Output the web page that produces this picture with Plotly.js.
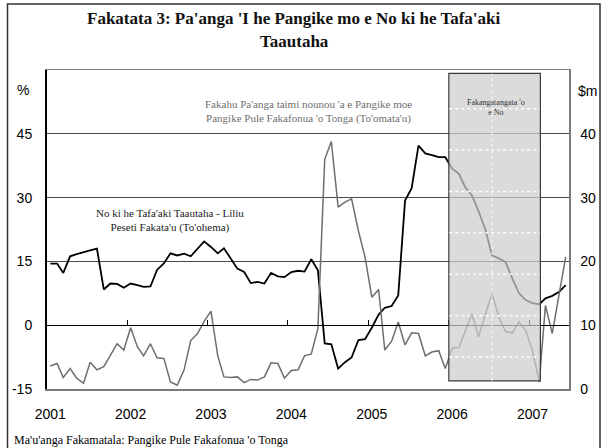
<!DOCTYPE html>
<html>
<head>
<meta charset="utf-8">
<script src="https://cdn.plot.ly/plotly-3.0.1.min.js"></script>
<style>html,body{margin:0;padding:0;background:#fff;}#chart{width:601px;height:448px;}</style>
</head>
<body>
<div id="chart"></div>
<script>
// ---- Data (monthly, Jan 2001 – Jun 2007) ----
const months = [
  '2001-01','2001-02','2001-03','2001-04','2001-05','2001-06','2001-07','2001-08','2001-09','2001-10','2001-11','2001-12',
  '2002-01','2002-02','2002-03','2002-04','2002-05','2002-06','2002-07','2002-08','2002-09','2002-10','2002-11','2002-12',
  '2003-01','2003-02','2003-03','2003-04','2003-05','2003-06','2003-07','2003-08','2003-09','2003-10','2003-11','2003-12',
  '2004-01','2004-02','2004-03','2004-04','2004-05','2004-06','2004-07','2004-08','2004-09','2004-10','2004-11','2004-12',
  '2005-01','2005-02','2005-03','2005-04','2005-05','2005-06','2005-07','2005-08','2005-09','2005-10','2005-11','2005-12',
  '2006-01','2006-02','2006-03','2006-04','2006-05','2006-06','2006-07','2006-08','2006-09','2006-10','2006-11','2006-12',
  '2007-01','2007-02','2007-03','2007-04','2007-05','2007-06'
];

// Private sector credit, annual % change (left axis)
const creditGrowth = [
  14.5,14.5,12.3,16.2,16.7,17.2,17.6,18.0,8.4,9.8,9.7,8.8,
  9.8,9.4,9.0,9.1,13.0,14.5,16.9,16.4,16.8,16.2,18.0,19.7,
  18.4,16.9,18.1,15.6,13.3,12.5,9.9,10.2,9.8,12.3,11.5,11.3,
  12.5,12.8,12.6,15.5,12.9,-4.3,-4.5,-10.2,-8.7,-7.6,-3.5,-3.3,
  -0.6,2.5,4.1,4.5,7.0,29.3,32.2,42.2,40.4,40.0,39.5,39.5,
  36.8,35.6,32.5,30.5,26.8,22.5,16.4,15.7,14.8,11.0,7.5,5.9,
  5.2,4.9,6.3,6.9,7.8,9.4
];

// Banks' short-term deposits with the Reserve Bank, $m (right axis)
const bankDeposits = [
  3.6,4.0,1.8,3.2,1.7,0.9,4.2,3.0,3.5,5.3,7.1,6.1,
  9.6,6.6,5.2,7.1,4.9,4.8,1.1,0.6,3.0,7.6,8.7,10.6,
  12.2,5.2,1.9,1.8,1.9,1.0,1.5,1.4,1.9,4.1,4.0,1.7,
  2.9,3.0,5.2,5.5,9.5,36.0,38.8,28.5,29.3,29.8,24.8,20.7,
  14.4,15.6,6.1,7.5,10.5,6.9,8.8,8.7,5.2,5.8,6.0,3.2,
  6.4,6.5,9.0,11.8,8.2,11.8,15.0,11.3,9.0,8.8,10.5,9.2,
  6.0,1.1,13.1,8.7,14.7,20.7
];

const yearLabels = ['2001','2002','2003','2004','2005','2006','2007'];
const leftTicks = [-15,0,15,30,45];
const rightTicks = [0,10,20,30,40];

const titleLine1 = "Fakatata 3: Pa'anga 'I he Pangike mo e No ki he Tafa'aki";
const titleLine2 = "Taautaha";
const depositLabel = "Fakahu Pa'anga taimi nounou 'a e Pangike moe<br>Pangike Pule Fakafonua 'o Tonga (To'omata'u)";
const creditLabel = "No ki he Tafa'aki Taautaha - Liliu<br>Peseti Fakata'u (To'ohema)";
const shadeLabel = "Fakangatangata 'o<br>e No";
const sourceText = "Ma'u'anga Fakamatala: Pangike Pule Fakafonua 'o Tonga";

// ---- Layout helpers ----
const W = 601, H = 448;
const M = {l: 47, r: 32, t: 70, b: 59};
const PW = W - M.l - M.r, PH = H - M.t - M.b;
const px = x => (x - M.l) / PW;
const py = y => (H - M.b - y) / PH;

const xDates = months.map(m => m + '-16');
const xRange = ['2001-01-01', '2007-07-01'];
const serif = 'Liberation Serif, Times New Roman, serif';
const sans = 'Liberation Sans, Arial, sans-serif';

const traces = [
  {
    x: xDates, y: bankDeposits, yaxis: 'y2', type: 'scatter', mode: 'lines',
    line: {color: '#6e6e6e', width: 1.5}, hoverinfo: 'skip', showlegend: false
  },
  {
    x: xDates, y: creditGrowth, yaxis: 'y', type: 'scatter', mode: 'lines',
    line: {color: '#000000', width: 1.8}, hoverinfo: 'skip', showlegend: false
  }
];

const shapes = [
  // outer frame
  {type: 'rect', xref: 'paper', yref: 'paper', x0: px(7.5), x1: px(600), y0: py(470), y1: py(4),
   line: {color: '#333', width: 1.5}, fillcolor: 'rgba(0,0,0,0)', layer: 'below'},
  // shaded restriction period
  {type: 'rect', xref: 'x', yref: 'y', x0: '2006-01-01', x1: '2007-02-21', y0: -13.1, y1: 59.2,
   fillcolor: 'rgba(205,205,205,0.72)', line: {color: '#3a3a3a', width: 1.2}, layer: 'above'},
  {type: 'line', xref: 'x', yref: 'y', x0: '2006-07-16', x1: '2006-07-16', y0: -13.1, y1: 59.2,
   line: {color: 'rgba(255,255,255,0.55)', width: 1.5, dash: 'dot'}, layer: 'above'}
];
for (let k = 0; k < 7; k++) {
  const yv = 50.9 - 9.73 * k;
  shapes.push({type: 'line', xref: 'x', yref: 'y', x0: '2006-01-03', x1: '2007-02-19', y0: yv, y1: yv,
    line: {color: 'rgba(255,255,255,0.9)', width: 1.5, dash: 'dot'}, layer: 'above'});
}

const annotations = [
  {text: '<b>' + titleLine1 + '</b>', xref: 'paper', yref: 'paper', x: px(294), y: py(19), showarrow: false,
   xanchor: 'center', yanchor: 'middle', font: {family: serif, size: 17, color: '#111'}},
  {text: '<b>' + titleLine2 + '</b>', xref: 'paper', yref: 'paper', x: px(294), y: py(41), showarrow: false,
   xanchor: 'center', yanchor: 'middle', font: {family: serif, size: 17, color: '#111'}},
  {text: '%', xref: 'paper', yref: 'paper', x: px(23), y: py(90), showarrow: false,
   xanchor: 'center', yanchor: 'middle', font: {family: sans, size: 14, color: '#000'}},
  {text: '$m', xref: 'paper', yref: 'paper', x: px(587), y: py(91), showarrow: false,
   xanchor: 'center', yanchor: 'middle', font: {family: sans, size: 14, color: '#000'}},
  {text: depositLabel, xref: 'paper', yref: 'paper', x: px(308), y: py(111), showarrow: false,
   xanchor: 'center', yanchor: 'middle', align: 'center', font: {family: serif, size: 11, color: '#6e6e6e'}},
  {text: creditLabel, xref: 'paper', yref: 'paper', x: px(170), y: py(220), showarrow: false,
   xanchor: 'center', yanchor: 'middle', align: 'center', font: {family: serif, size: 11, color: '#222'}},
  {text: shadeLabel, xref: 'paper', yref: 'paper', x: px(496), y: py(108), showarrow: false,
   xanchor: 'center', yanchor: 'middle', align: 'center', font: {family: serif, size: 8, color: '#333'}},
  {text: sourceText, xref: 'paper', yref: 'paper', x: px(12), y: py(440), showarrow: false,
   xanchor: 'left', yanchor: 'middle', font: {family: serif, size: 12, color: '#000'}}
];

const layout = {
  width: W, height: H,
  margin: M,
  paper_bgcolor: '#fff', plot_bgcolor: '#fff',
  showlegend: false,
  xaxis: {
    type: 'date', range: xRange, fixedrange: true,
    tickvals: yearLabels.map(y => y + '-01-16'), ticktext: yearLabels,
    ticks: '', ticklabelstandoff: 12,
    tickfont: {family: sans, size: 14, color: '#000'},
    showgrid: false, zeroline: false,
    showline: true, linecolor: '#7a7a7a', linewidth: 1.5, mirror: true
  },
  xaxis2: {
    type: 'date', range: xRange, overlaying: 'x', anchor: 'free', position: 0.2, side: 'bottom',
    tickvals: yearLabels.map(y => y + '-01-01'), ticktext: yearLabels, showticklabels: false,
    ticks: 'inside', ticklen: 5, tickwidth: 1, tickcolor: '#000',
    showgrid: false, zeroline: false, showline: true, linecolor: '#000', linewidth: 1.2
  },
  yaxis: {
    range: [-15, 60], tickvals: leftTicks, ticktext: leftTicks.map(String),
    ticks: '', ticklabelstandoff: 10,
    tickfont: {family: sans, size: 14, color: '#000'},
    showgrid: true, gridcolor: '#4a4a4a', gridwidth: 1,
    zeroline: false,
    showline: true, linecolor: '#000', linewidth: 2
  },
  yaxis2: {
    range: [0, 50], overlaying: 'y', side: 'right', tickvals: rightTicks, ticktext: rightTicks.map(String),
    ticks: '', ticklabelstandoff: 7,
    tickfont: {family: sans, size: 14, color: '#000'},
    showgrid: false, zeroline: false,
    showline: true, linecolor: '#7a7a7a', linewidth: 1.5
  },
  shapes: shapes,
  annotations: annotations
};

// invisible trace to activate xaxis2 (zero line with year ticks)
traces.push({x: [xDates[0]], y: [0], xaxis: 'x2', yaxis: 'y', mode: 'markers',
  marker: {opacity: 0}, hoverinfo: 'skip', showlegend: false});

Plotly.newPlot('chart', traces, layout, {displayModeBar: false, staticPlot: true});
</script>
</body>
</html>
